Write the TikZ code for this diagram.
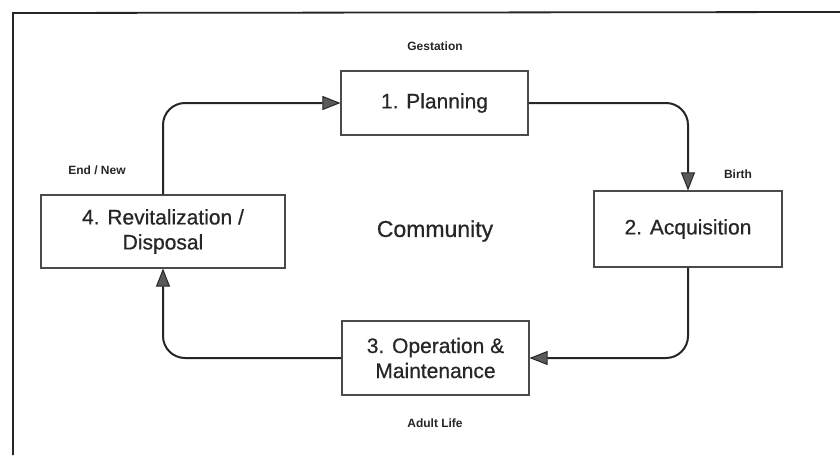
\documentclass[tikz,border=0pt]{standalone}
\usepackage{fontspec}
\setmainfont{Liberation Sans}
\newfontfamily\labelfont[FakeBold=0.6]{Liberation Sans}
\usetikzlibrary{arrows.meta}

\definecolor{ink}{HTML}{262626}
\definecolor{boxline}{HTML}{4A4A4A}
\definecolor{headfill}{HTML}{5A5A5A}

\tikzset{
  stage/.style={draw=boxline, line width=1.1pt, fill=white, align=center,
    inner sep=0pt, font=\labelfont\fontsize{21}{25}\selectfont, text=ink},
  phase/.style={font=\bfseries\fontsize{12}{14}\selectfont, text=ink, inner sep=0pt},
  flow/.style={draw=ink, line width=2pt, rounded corners=22pt,
    -{Triangle[length=18pt,width=14pt,fill=headfill,line width=1pt]}},
  frame/.style={draw=ink, line width=1.8pt}
}

\begin{document}
\begin{tikzpicture}[x=1pt,y=-1pt]
  \useasboundingbox (0,0) rectangle (840,455);
  \fill[white] (0,0) rectangle (840,455);

  % page frame (top and left edges)
  \coordinate (fTL) at (13,13);
  \coordinate (fTR) at (840,12);
  \coordinate (fBL) at (13,455);
  \draw[frame] (fTR) -- (fTL) -- (fBL);

  % life-cycle stages
  \node[stage, minimum width=187pt, minimum height=64pt] (plan) at (434.5,103) {1. Planning};
  \node[stage, minimum width=188pt, minimum height=76pt] (acq)  at (688,229) {2. Acquisition};
  \node[stage, minimum width=187pt, minimum height=74pt] (oper) at (435.5,358) {3. Operation \&\\Maintenance};
  \node[stage, minimum width=244pt, minimum height=73pt] (rev)  at (163,231.5) {4. Revitalization /\\Disposal};

  % centre label
  \node[font=\labelfont\fontsize{23}{27}\selectfont, text=ink] (comm) at (435,231) {Community};

  % phase labels
  \node[phase] (gest)  at (435,46)  {Gestation};
  \node[phase] (birth) at (738,174) {Birth};
  \node[phase] (endn)  at (97,170)  {End / New};
  \node[phase] (adult) at (435,423) {Adult Life};

  % cycle connectors
  \draw[flow] (rev.north) |- (plan.west);
  \draw[flow] (plan.east) -| (acq.north);
  \draw[flow] (acq.south) |- (oper.east);
  \draw[flow] (oper.west) -| (rev.south);
\end{tikzpicture}
\end{document}
